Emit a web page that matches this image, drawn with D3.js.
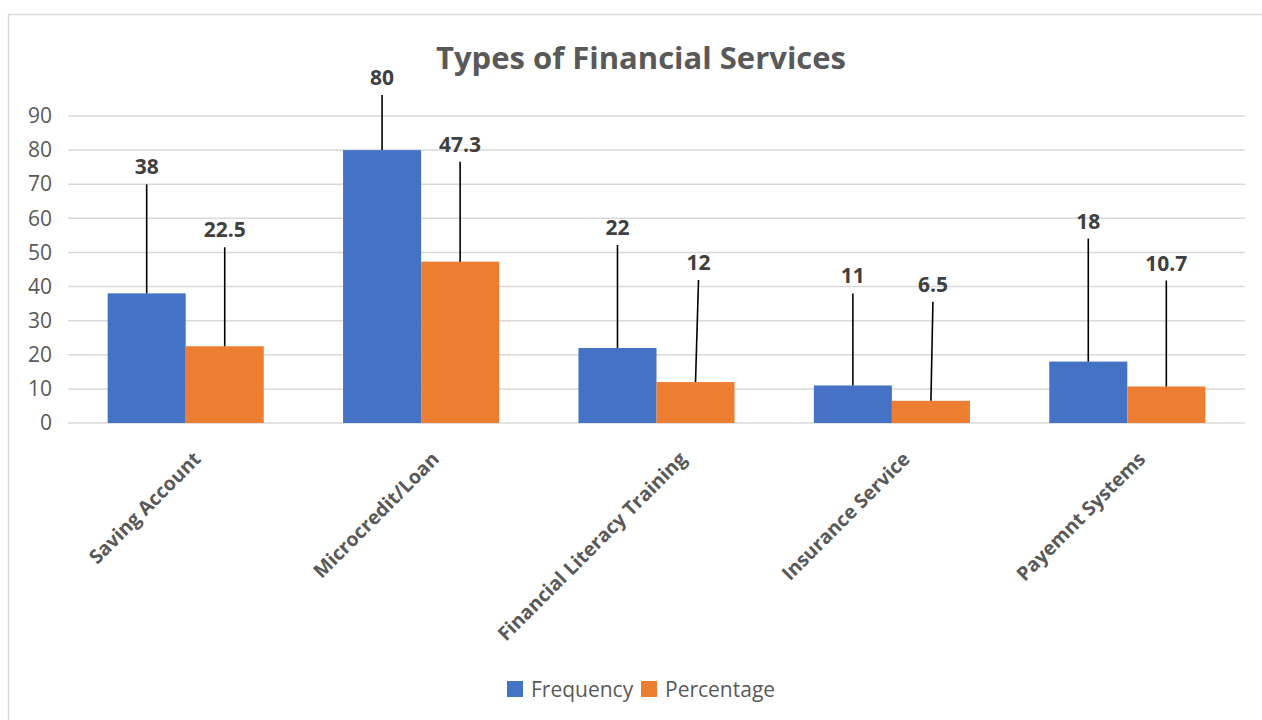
<!DOCTYPE html>
<html>
<head>
<meta charset="utf-8">
<script src="https://cdn.jsdelivr.net/npm/d3@7"></script>
<style>
  html, body { margin: 0; padding: 0; background: #ffffff; }
  svg { display: block; font-family: "Open Sans", "Noto Sans", sans-serif; }
</style>
</head>
<body>
<svg id="chart" width="1262" height="720"></svg>
<script>
// Survey data: usage of financial services
const categories = ["Saving Account", "Microcredit/Loan", "Financial Literacy Training", "Insurance Service", "Payemnt Systems"];
const seriesNames = ["Frequency", "Percentage"];
const frequency = [38, 80, 22, 11, 18];
const percentage = [22.5, 47.3, 12, 6.5, 10.7];
const yTicks = [0, 10, 20, 30, 40, 50, 60, 70, 80, 90];
const chartTitle = "Types of Financial Services";

// Callout placement (pixels above the bar top, and horizontal nudge)
const freqLabelLift = [127, 73, 121, 110, 141];
const pctLabelLift = [117, 118, 120, 117, 124];
const freqLabelNudge = [0, 0, 0, 0, 0];
const pctLabelNudge = [0, 0, 3, 2, 0];
// horizontal nudge of the rotated category labels
const categoryLabelNudge = [-3, 0, 12, 0, 0];

const colors = { Frequency: "#4472C4", Percentage: "#ED7D31" };
const textGray = "#595959";
const labelDark = "#404040";
const gridGray = "#d9d9d9";

const svg = d3.select("#chart");

// outer chart frame
svg.append("rect")
  .attr("x", 8.5).attr("y", 14.5)
  .attr("width", 1262).attr("height", 720)
  .attr("fill", "#ffffff")
  .attr("stroke", gridGray).attr("stroke-width", 1.5);

const plot = { left: 68, right: 1245, top: 116, bottom: 423 };

const x = d3.scaleBand().domain(categories).range([plot.left, plot.right]).paddingInner(0).paddingOuter(0);
const groupWidth = x.bandwidth() * 0.663;
const xSub = d3.scaleBand().domain(seriesNames).range([0, groupWidth]);
const y = d3.scaleLinear().domain([0, 90]).range([plot.bottom, plot.top]);

// gridlines
svg.append("g")
  .selectAll("line")
  .data(yTicks)
  .join("line")
  .attr("x1", plot.left).attr("x2", plot.right)
  .attr("y1", d => y(d)).attr("y2", d => y(d))
  .attr("stroke", gridGray).attr("stroke-width", 1.5);

// y axis labels
const yAxis = d3.axisLeft(y).tickValues(yTicks).tickSize(0).tickPadding(0);
const yG = svg.append("g").attr("transform", `translate(${plot.left - 16},0)`).call(yAxis);
yG.select(".domain").remove();
yG.selectAll("text")
  .attr("fill", textGray)
  .style("font-size", "21px")
  .style("font-family", "'Open Sans', sans-serif");

// bars
const rows = categories.map((c, i) => ({
  category: c,
  values: [
    { key: "Frequency", value: frequency[i], lift: freqLabelLift[i], nudge: freqLabelNudge[i] },
    { key: "Percentage", value: percentage[i], lift: pctLabelLift[i], nudge: pctLabelNudge[i] }
  ]
}));

const groups = svg.append("g")
  .selectAll("g")
  .data(rows)
  .join("g")
  .attr("transform", d => `translate(${x(d.category) + (x.bandwidth() - groupWidth) / 2},0)`);

groups.selectAll("rect")
  .data(d => d.values)
  .join("rect")
  .attr("x", d => xSub(d.key))
  .attr("y", d => y(d.value))
  .attr("width", xSub.bandwidth())
  .attr("height", d => y(0) - y(d.value))
  .attr("fill", d => colors[d.key]);

// leader lines and value labels
groups.selectAll("line.leader")
  .data(d => d.values)
  .join("line")
  .attr("class", "leader")
  .attr("x1", d => xSub(d.key) + xSub.bandwidth() / 2)
  .attr("y1", d => y(d.value))
  .attr("x2", d => xSub(d.key) + xSub.bandwidth() / 2 + d.nudge)
  .attr("y2", d => y(d.value) - d.lift + 18)
  .attr("stroke", "#000000").attr("stroke-width", 1.6);

groups.selectAll("text.value")
  .data(d => d.values)
  .join("text")
  .attr("class", "value")
  .attr("x", d => xSub(d.key) + xSub.bandwidth() / 2 + d.nudge)
  .attr("y", d => y(d.value) - d.lift)
  .attr("text-anchor", "middle")
  .attr("dominant-baseline", "central")
  .attr("fill", labelDark)
  .style("font-size", "21px")
  .style("font-weight", "700")
  .text(d => d.value);

// category labels, rotated
svg.append("g")
  .selectAll("text")
  .data(categories)
  .join("text")
  .attr("transform", (d, i) => `translate(${x(d) + x.bandwidth() / 2 + 14 + categoryLabelNudge[i]},455) rotate(-45)`)
  .attr("text-anchor", "end")
  .attr("dominant-baseline", "central")
  .attr("fill", textGray)
  .style("font-size", "19.5px")
  .style("font-weight", "700")
  .text(d => d);

// title
svg.append("text")
  .attr("x", 641).attr("y", 57)
  .attr("text-anchor", "middle")
  .attr("dominant-baseline", "central")
  .attr("fill", textGray)
  .style("font-size", "31px")
  .style("font-weight", "700")
  .text(chartTitle);

// legend
const legend = svg.append("g").attr("transform", "translate(507,689)");
const legendItems = legend.selectAll("g")
  .data(seriesNames)
  .join("g")
  .attr("transform", (d, i) => `translate(${i * 134},0)`);
legendItems.append("rect")
  .attr("x", 0).attr("y", -8)
  .attr("width", 16).attr("height", 16)
  .attr("fill", d => colors[d]);
legendItems.append("text")
  .attr("x", 24).attr("y", 0)
  .attr("dominant-baseline", "central")
  .attr("fill", textGray)
  .style("font-size", "21px")
  .text(d => d);
</script>
</body>
</html>
